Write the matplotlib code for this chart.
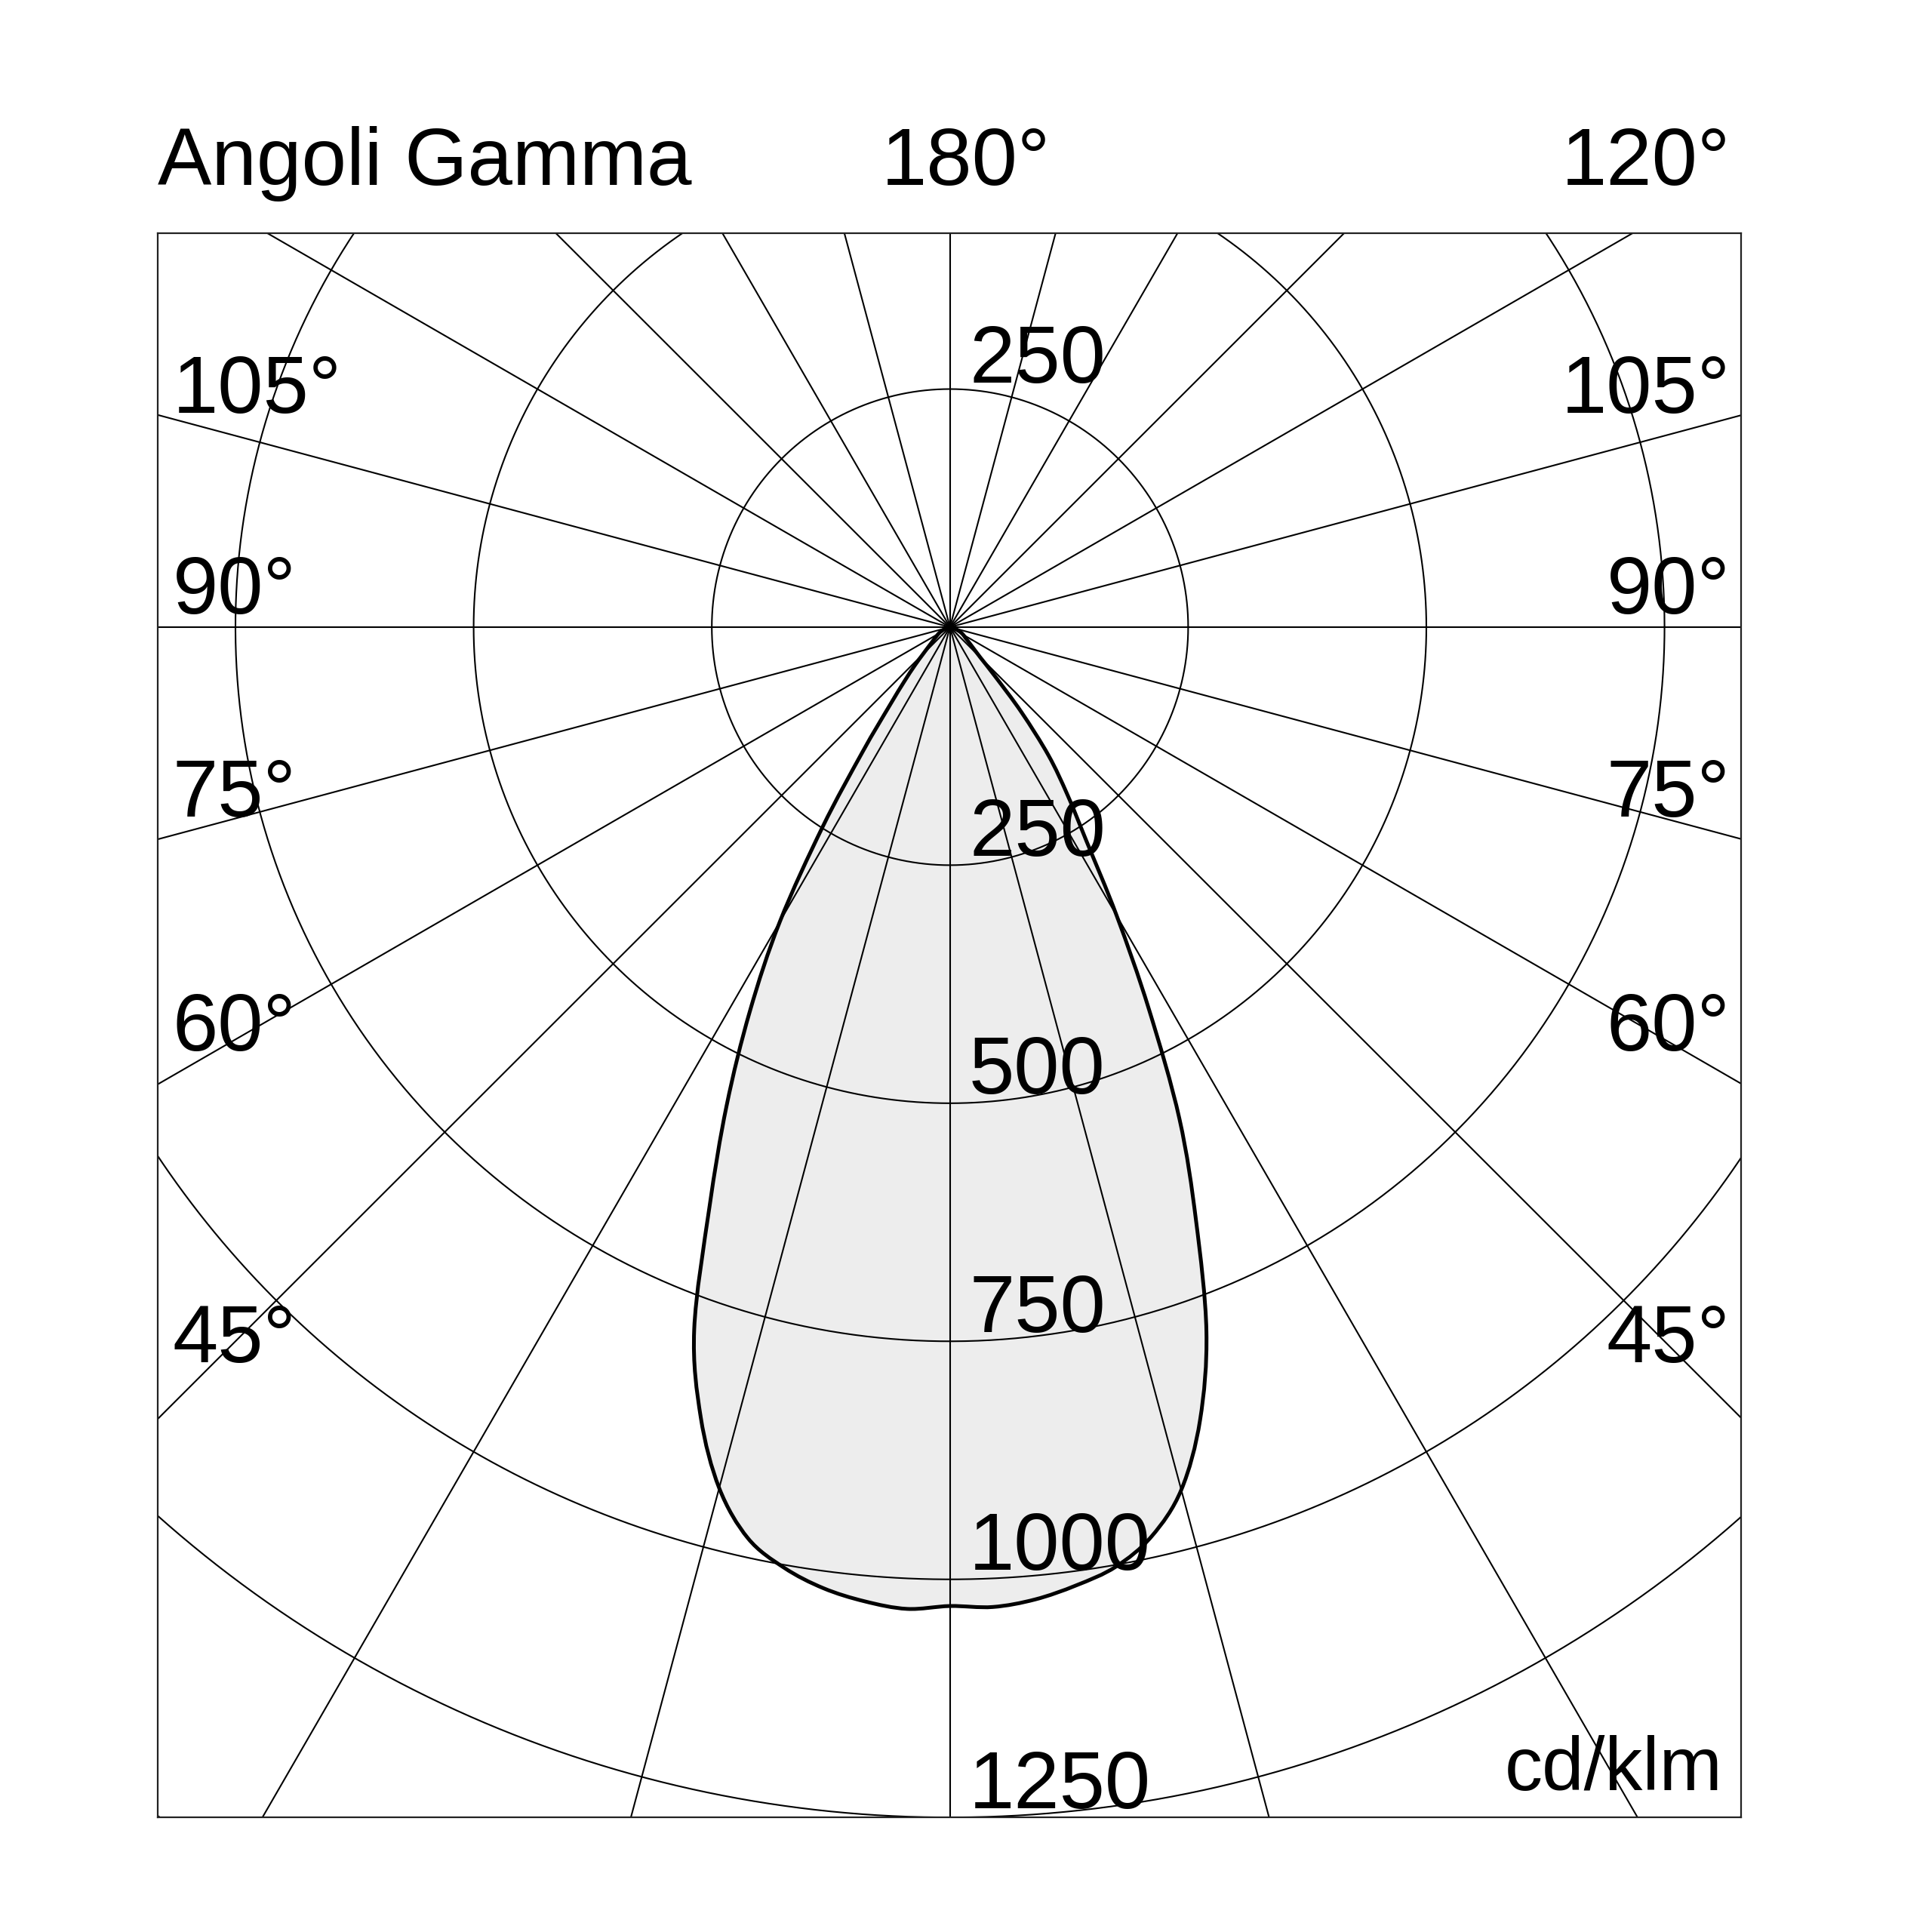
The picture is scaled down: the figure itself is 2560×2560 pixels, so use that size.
import matplotlib
matplotlib.use('Agg')
import matplotlib.pyplot as plt
from matplotlib.path import Path
from matplotlib.patches import PathPatch
import numpy as np

plt.rcParams['font.family'] = ['Liberation Sans', 'DejaVu Sans']

# gamma angles (deg from nadir) and intensities in cd/klm, two half planes
gamma = [0, 2.5, 5, 7.5, 10, 12.5, 15, 17.5, 20, 22.5, 25, 27.5, 30,
         32.5, 35, 37.5, 40, 42.5, 45, 50, 55, 60, 65, 70, 75, 80, 90]
i_left = [1028, 1032, 1027, 1018, 1003, 980, 936, 870, 785, 660, 555, 455, 357,
          249, 160, 105, 75, 55, 40, 25, 18, 14, 10, 6, 3, 1, 0]
i_right = [1030, 1030, 1025, 1015, 1002, 978, 938, 873, 787, 675, 570, 452, 350,
           267, 215, 170, 117, 70, 45, 28, 20, 16, 12, 8, 4, 1, 0]

rings = [250, 500, 750, 1000, 1250, 1500]
ring_labels = ['250', '500', '750', '1000', '1250']
spokes = np.arange(0, 180, 15)

left_angle_labels = ['105°', '90°', '75°', '60°', '45°']
right_angle_labels = ['105°', '90°', '75°', '60°', '45°']
angle_label_y = [225, 14, -199, -445, -772]

fig = plt.figure(figsize=(25.6, 25.6), dpi=100, facecolor='white')
ax = fig.add_axes([0.08163, 0.05931, 0.81952, 0.82015])
ax.set_xlim(-831.6, 830.3)
ax.set_ylim(-1250, 414)
ax.set_xticks([])
ax.set_yticks([])
for s in ax.spines.values():
    s.set_linewidth(1.6)
    s.set_color('#222222')

# photometric curve as a smooth path through the measured points
g = np.radians(gamma)
il = np.array(i_left)
ir = np.array(i_right)
xs = np.concatenate([-il[::-1] * np.sin(g[::-1]), ir[1:] * np.sin(g[1:])])
ys = np.concatenate([-il[::-1] * np.cos(g[::-1]), -ir[1:] * np.cos(g[1:])])
pts = np.column_stack([xs, ys])

# catmull-rom -> cubic bezier
verts = [pts[0]]
codes = [Path.MOVETO]
n = len(pts)
for k in range(n - 1):
    p0 = pts[max(k - 1, 0)]
    p1 = pts[k]
    p2 = pts[k + 1]
    p3 = pts[min(k + 2, n - 1)]
    c1 = p1 + (p2 - p0) / 6.0
    c2 = p2 - (p3 - p1) / 6.0
    verts += [c1, c2, p2]
    codes += [Path.CURVE4] * 3
curve = Path(verts, codes)

ax.add_patch(PathPatch(curve, facecolor='#ededed', edgecolor='none', zorder=1))

# polar grid
t = np.linspace(0, 2 * np.pi, 1441)
for r in rings:
    ax.plot(r * np.cos(t), r * np.sin(t), color='black', lw=1.5, zorder=2)
for a in spokes:
    ar = np.radians(a)
    ax.plot([-3000 * np.cos(ar), 3000 * np.cos(ar)],
            [-3000 * np.sin(ar), 3000 * np.sin(ar)], color='black', lw=1.5, zorder=2)

ax.add_patch(PathPatch(curve, facecolor='none', edgecolor='black', lw=3.6,
                       joinstyle='round', zorder=3))

fs = 78
# ring value labels
ax.text(20, 257, '250', fontsize=fs, va='baseline', ha='left', zorder=4)
for r, lab in zip(rings, ring_labels):
    ax.text(20, -r + 10, lab, fontsize=fs, va='baseline', ha='left', zorder=4)

# angle labels
for lab, y in zip(left_angle_labels, angle_label_y):
    ax.text(-816, y, lab, fontsize=fs, va='baseline', ha='left', zorder=4)
for lab, y in zip(right_angle_labels, angle_label_y):
    ax.text(819, y, lab, fontsize=fs, va='baseline', ha='right', zorder=4)

ax.text(-831.6, 464, 'Angoli Gamma', fontsize=77, va='baseline', ha='left', clip_on=False)
ax.text(17, 464, '180°', fontsize=fs, va='baseline', ha='center', clip_on=False)
ax.text(819, 464, '120°', fontsize=fs, va='baseline', ha='right', clip_on=False)
ax.text(811, -1221, 'cd/klm', fontsize=72, va='baseline', ha='right', zorder=4)

fig.savefig('out.png', dpi=100, facecolor='white')
